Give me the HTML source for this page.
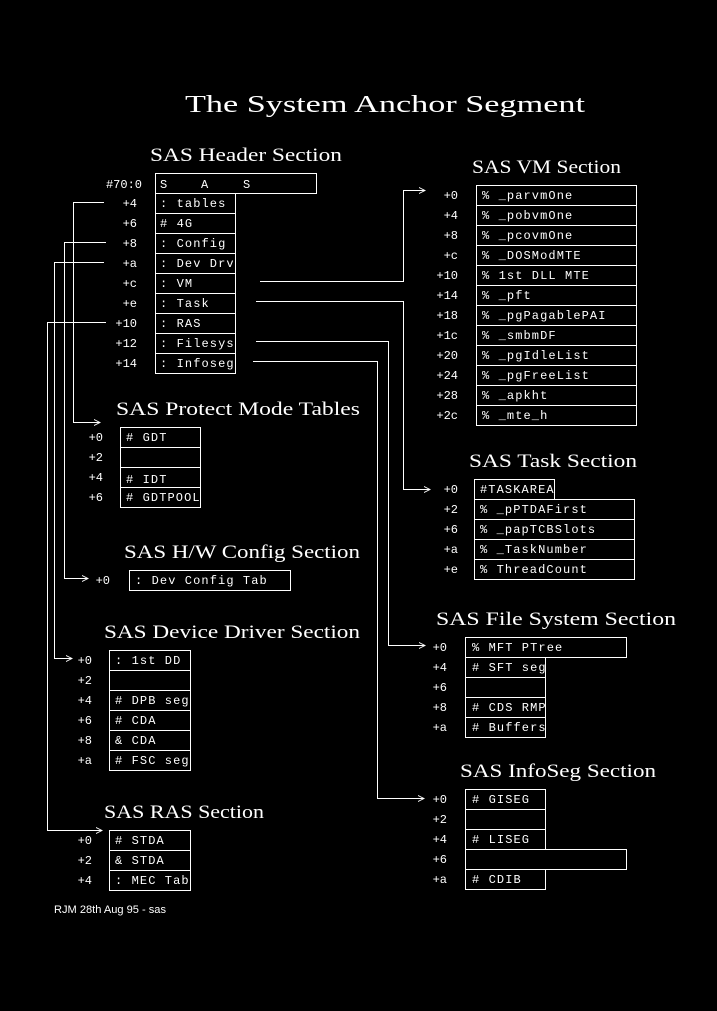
<!DOCTYPE html>
<html><head><meta charset="utf-8"><style>
html,body{margin:0;padding:0;background:#000;}
svg{display:block}
.t{font-family:"Liberation Serif",serif;fill:#fff;}
.c{font-family:"Liberation Mono",monospace;font-size:12px;fill:#fff;letter-spacing:1.1px;}
.o{font-family:"Liberation Mono",monospace;font-size:12px;fill:#fff;text-anchor:end;}
.l{stroke:#fff;stroke-width:1;fill:none;}
</style></head><body>
<svg width="717" height="1011" viewBox="0 0 717 1011" xmlns="http://www.w3.org/2000/svg" shape-rendering="crispEdges">
<rect width="717" height="1011" fill="#000"/>
<text class="t" x="185" y="112" font-size="24" textLength="400" lengthAdjust="spacingAndGlyphs">The System Anchor Segment</text>

<g class="t" font-size="19">
<text x="150" y="161" textLength="192" lengthAdjust="spacingAndGlyphs">SAS Header Section</text>
<text x="116" y="415" textLength="244" lengthAdjust="spacingAndGlyphs">SAS Protect Mode Tables</text>
<text x="124" y="558" textLength="236" lengthAdjust="spacingAndGlyphs">SAS H/W Config Section</text>
<text x="104" y="638" textLength="256" lengthAdjust="spacingAndGlyphs">SAS Device Driver Section</text>
<text x="104" y="818" textLength="160" lengthAdjust="spacingAndGlyphs">SAS RAS Section</text>
<text x="472" y="173" textLength="149" lengthAdjust="spacingAndGlyphs">SAS VM Section</text>
<text x="469" y="467" textLength="168" lengthAdjust="spacingAndGlyphs">SAS Task Section</text>
<text x="436" y="625" textLength="240" lengthAdjust="spacingAndGlyphs">SAS File System Section</text>
<text x="460" y="777" textLength="196" lengthAdjust="spacingAndGlyphs">SAS InfoSeg Section</text>
</g>

<g class="l">
<rect x="155.5" y="173.5" width="161" height="20"/>
<rect x="155.5" y="193.5" width="80" height="180"/>
<path d="M155 213.5H236M155 233.5H236M155 253.5H236M155 273.5H236M155 293.5H236M155 313.5H236M155 333.5H236M155 353.5H236"/>
</g>
<g class="c"><text x="160" y="188">S</text><text x="201" y="188">A</text><text x="243" y="188">S</text></g>
<g class="c">
<text x="160" y="207">: tables</text>
<text x="160" y="227"># 4G</text>
<text x="160" y="247">: Config</text>
<text x="160" y="267">: Dev Drv</text>
<text x="160" y="287">: VM</text>
<text x="160" y="307">: Task</text>
<text x="160" y="327">: RAS</text>
<text x="160" y="347">: Filesys</text>
<text x="160" y="367">: Infoseg</text>
</g>
<g class="o">
<text x="142" y="188">#70:0</text>
<text x="137" y="207">+4</text>
<text x="137" y="227">+6</text>
<text x="137" y="247">+8</text>
<text x="137" y="267">+a</text>
<text x="137" y="287">+c</text>
<text x="137" y="307">+e</text>
<text x="137" y="327">+10</text>
<text x="137" y="347">+12</text>
<text x="137" y="367">+14</text>
</g>

<g class="l">
<path d="M104 202.5H73.5V422.5H100"/><path d="M94 419.5L100 422.5L94 425.5"/>
<path d="M106 242.5H64.5V578.5H88"/><path d="M82 575.5L88 578.5L82 581.5"/>
<path d="M104 262.5H54.5V658.5H72"/><path d="M66 655.5L72 658.5L66 661.5"/>
<path d="M106 322.5H47.5V830.5H102"/><path d="M96 827.5L102 830.5L96 833.5"/>
<path d="M260 281.5H403.5V190.5H425"/><path d="M419 187.5L425 190.5L419 193.5"/>
<path d="M256 301.5H403.5V489.5H430"/><path d="M424 486.5L430 489.5L424 492.5"/>
<path d="M256 341.5H388.5V645.5H425"/><path d="M419 642.5L425 645.5L419 648.5"/>
<path d="M253 361.5H377.5V798.5H424"/><path d="M418 795.5L424 798.5L418 801.5"/>
</g>

<g class="l">
<rect x="120.5" y="427.5" width="80" height="80"/>
<path d="M120 447.5H201M120 467.5H201M120 487.5H201"/>
</g>
<g class="c"><text x="126" y="441"># GDT</text><text x="126" y="483"># IDT</text><text x="126" y="501"># GDTPOOL</text></g>
<g class="o"><text x="103" y="441">+0</text><text x="103" y="461">+2</text><text x="103" y="481">+4</text><text x="103" y="501">+6</text></g>

<rect class="l" x="129.5" y="570.5" width="161" height="20"/>
<text class="c" x="135" y="584">: Dev Config Tab</text>
<text class="o" x="110" y="584">+0</text>

<g class="l">
<rect x="109.5" y="650.5" width="81" height="120"/>
<path d="M109 670.5H191M109 690.5H191M109 710.5H191M109 730.5H191M109 750.5H191"/>
</g>
<g class="c"><text x="115" y="664">: 1st DD</text><text x="115" y="704"># DPB seg</text><text x="115" y="724"># CDA</text><text x="115" y="744">&amp; CDA</text><text x="115" y="764"># FSC seg</text></g>
<g class="o"><text x="92" y="664">+0</text><text x="92" y="684">+2</text><text x="92" y="704">+4</text><text x="92" y="724">+6</text><text x="92" y="744">+8</text><text x="92" y="764">+a</text></g>

<g class="l">
<rect x="109.5" y="830.5" width="81" height="60"/>
<path d="M109 850.5H191M109 870.5H191"/>
</g>
<g class="c"><text x="115" y="844"># STDA</text><text x="115" y="864">&amp; STDA</text><text x="115" y="884">: MEC Tab</text></g>
<g class="o"><text x="92" y="844">+0</text><text x="92" y="864">+2</text><text x="92" y="884">+4</text></g>
<text x="54" y="913" font-family="Liberation Sans,sans-serif" font-size="11" fill="#fff" textLength="112" lengthAdjust="spacingAndGlyphs">RJM 28th Aug 95 - sas</text>

<g class="l">
<rect x="476.5" y="185.5" width="160" height="240"/>
<path d="M476 205.5H637M476 225.5H637M476 245.5H637M476 265.5H637M476 285.5H637M476 305.5H637M476 325.5H637M476 345.5H637M476 365.5H637M476 385.5H637M476 405.5H637"/>
</g>
<g class="c">
<text x="482" y="199">% _parvmOne</text>
<text x="482" y="219">% _pobvmOne</text>
<text x="482" y="239">% _pcovmOne</text>
<text x="482" y="259">% _DOSModMTE</text>
<text x="482" y="279">% 1st DLL MTE</text>
<text x="482" y="299">% _pft</text>
<text x="482" y="319">% _pgPagablePAI</text>
<text x="482" y="339">% _smbmDF</text>
<text x="482" y="359">% _pgIdleList</text>
<text x="482" y="379">% _pgFreeList</text>
<text x="482" y="399">% _apkht</text>
<text x="482" y="419">% _mte_h</text>
</g>
<g class="o">
<text x="458" y="199">+0</text><text x="458" y="219">+4</text><text x="458" y="239">+8</text><text x="458" y="259">+c</text>
<text x="458" y="279">+10</text><text x="458" y="299">+14</text><text x="458" y="319">+18</text><text x="458" y="339">+1c</text>
<text x="458" y="359">+20</text><text x="458" y="379">+24</text><text x="458" y="399">+28</text><text x="458" y="419">+2c</text>
</g>

<g class="l">
<rect x="474.5" y="479.5" width="80" height="20"/>
<rect x="474.5" y="499.5" width="160" height="80"/>
<path d="M474 519.5H635M474 539.5H635M474 559.5H635"/>
</g>
<g class="c">
<text x="480" y="493">#TASKAREA</text>
<text x="480" y="513">% _pPTDAFirst</text>
<text x="480" y="533">% _papTCBSlots</text>
<text x="480" y="553">% _TaskNumber</text>
<text x="480" y="573">% ThreadCount</text>
</g>
<g class="o"><text x="458" y="493">+0</text><text x="458" y="513">+2</text><text x="458" y="533">+6</text><text x="458" y="553">+a</text><text x="458" y="573">+e</text></g>

<g class="l">
<rect x="465.5" y="637.5" width="161" height="20"/>
<rect x="465.5" y="657.5" width="80" height="80"/>
<path d="M465 677.5H546M465 697.5H546M465 717.5H546"/>
</g>
<g class="c">
<text x="472" y="651">% MFT PTree</text>
<text x="472" y="671"># SFT seg</text>
<text x="472" y="711"># CDS RMP</text>
<text x="472" y="731"># Buffers</text>
</g>
<g class="o"><text x="447" y="651">+0</text><text x="447" y="671">+4</text><text x="447" y="691">+6</text><text x="447" y="711">+8</text><text x="447" y="731">+a</text></g>

<g class="l">
<rect x="465.5" y="789.5" width="80" height="100"/>
<path d="M465 809.5H546M465 829.5H546"/>
<rect x="465.5" y="849.5" width="161" height="20" fill="#000"/>
</g>
<g class="c">
<text x="472" y="803"># GISEG</text>
<text x="472" y="843"># LISEG</text>
<text x="472" y="883"># CDIB</text>
</g>
<g class="o"><text x="447" y="803">+0</text><text x="447" y="823">+2</text><text x="447" y="843">+4</text><text x="447" y="863">+6</text><text x="447" y="883">+a</text></g>
</svg>
</body></html>
